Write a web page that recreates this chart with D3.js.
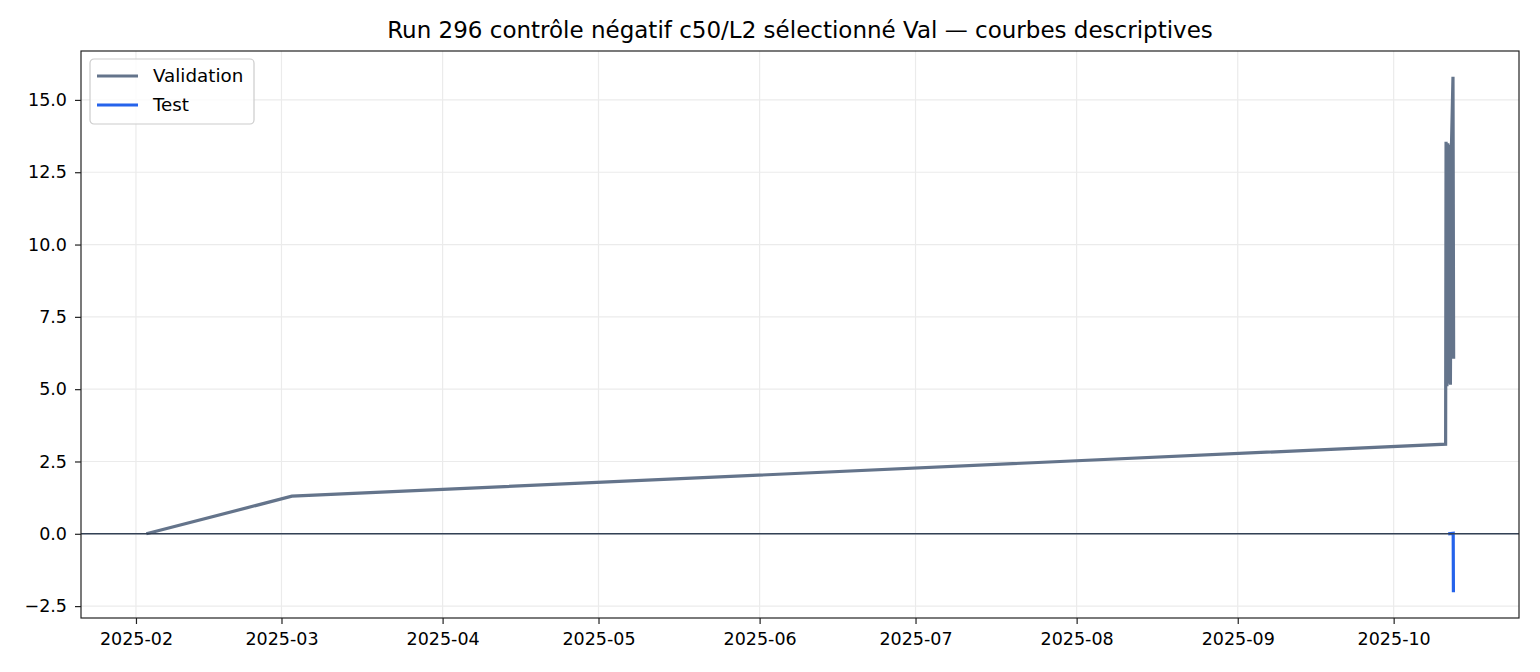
<!DOCTYPE html>
<html lang="fr">
<head>
    <meta charset="UTF-8">
    <title>Run 296 contrôle négatif</title>
    <script src="https://d3js.org/d3.v7.min.js"></script>
    <style>
        body { margin: 0; background: #fff; }
        svg { font-family: "DejaVu Sans", sans-serif; }
    </style>
</head>
<body>
<div id="chart"></div>
<script>
    // series
    const validationDates = [
        "2025-02-03T00", "2025-03-03T00", "2025-10-11T00",
        "2025-10-11T02", "2025-10-11T06", "2025-10-11T10", "2025-10-11T14",
        "2025-10-11T18", "2025-10-11T22", "2025-10-12T03", "2025-10-12T10", "2025-10-12T13"
    ];
    const validationValues = [0.0, 1.3, 3.1, 13.55, 5.1, 13.5, 5.2, 13.45, 5.15, 13.4, 15.8, 6.05];

    const testDates = ["2025-10-11T12", "2025-10-12T11", "2025-10-12T12"];
    const testValues = [0.0, 0.02, -2.02];

    const yTicks = [-2.5, 0, 2.5, 5, 7.5, 10, 12.5, 15];
    const seriesNames = ["Validation", "Test"];
    const seriesColors = ["#64748b", "#2563eb"];
    const title = "Run 296 contrôle négatif c50/L2 sélectionné Val — courbes descriptives";

    const width = 1540, height = 672;
    const margin = { top: 51, right: 21, bottom: 54, left: 81 };
    const iw = width - margin.left - margin.right;
    const ih = height - margin.top - margin.bottom;

    const parse = d3.utcParse("%Y-%m-%dT%H");
    const validation = validationDates.map((d, i) => ({ date: parse(d), value: validationValues[i] }));
    const test = testDates.map((d, i) => ({ date: parse(d), value: testValues[i] }));
    const all = validation.concat(test);

    // matplotlib style 5% margins
    const xExt = d3.extent(all, d => d.date);
    const xPad = (xExt[1] - xExt[0]) * 0.05;
    const yExt = d3.extent(all, d => d.value);
    const yPad = (yExt[1] - yExt[0]) * 0.05;

    const xScale = d3.scaleUtc()
        .domain([new Date(+xExt[0] - xPad), new Date(+xExt[1] + xPad)])
        .range([0, iw]);
    const yScale = d3.scaleLinear()
        .domain([yExt[0] - yPad, yExt[1] + yPad])
        .range([ih, 0]);

    const svg = d3.select("#chart").append("svg")
        .attr("width", width)
        .attr("height", height);

    svg.append("text")
        .attr("x", margin.left + iw / 2)
        .attr("y", 38)
        .attr("text-anchor", "middle")
        .attr("font-size", "23px")
        .attr("fill", "#000")
        .text(title);

    const g = svg.append("g").attr("transform", `translate(${margin.left},${margin.top})`);

    const xTicks = xScale.ticks(d3.utcMonth.every(1));

    // grid
    g.append("g").selectAll("line").data(xTicks).join("line")
        .attr("x1", d => xScale(d)).attr("x2", d => xScale(d))
        .attr("y1", 0).attr("y2", ih)
        .attr("stroke", "#ebebeb").attr("stroke-width", 1.2);
    g.append("g").selectAll("line").data(yTicks).join("line")
        .attr("x1", 0).attr("x2", iw)
        .attr("y1", d => yScale(d)).attr("y2", d => yScale(d))
        .attr("stroke", "#ebebeb").attr("stroke-width", 1.2);

    const line = d3.line()
        .x(d => xScale(d.date))
        .y(d => yScale(d.value));

    g.append("path").datum(validation)
        .attr("d", line)
        .attr("fill", "none")
        .attr("stroke", seriesColors[0])
        .attr("stroke-width", 3.2)
        .attr("stroke-linejoin", "miter");

    g.append("path").datum(test)
        .attr("d", line)
        .attr("fill", "none")
        .attr("stroke", seriesColors[1])
        .attr("stroke-width", 3.2);

    // zero reference line
    g.append("line")
        .attr("x1", 0).attr("x2", iw)
        .attr("y1", yScale(0)).attr("y2", yScale(0))
        .attr("stroke", "#334155").attr("stroke-width", 1.6);

    // axes
    const xAxis = d3.axisBottom(xScale)
        .tickValues(xTicks)
        .tickFormat(d3.utcFormat("%Y-%m"))
        .tickSize(6).tickPadding(9);
    const yAxis = d3.axisLeft(yScale)
        .tickValues(yTicks)
        .tickFormat(d3.format(".1f"))
        .tickSize(6).tickPadding(8);

    const gx = g.append("g").attr("transform", `translate(0,${ih})`).call(xAxis);
    const gy = g.append("g").call(yAxis);
    [gx, gy].forEach(a => {
        a.select(".domain").remove();
        a.selectAll("line").attr("stroke", "#222").attr("stroke-width", 1.2);
        a.selectAll("text").attr("font-size", "17.5px").attr("fill", "#000")
            .attr("font-family", "DejaVu Sans, sans-serif");
    });

    // frame
    g.append("rect")
        .attr("width", iw).attr("height", ih)
        .attr("fill", "none")
        .attr("stroke", "#222").attr("stroke-width", 1.2);

    // legend
    const legend = g.append("g").attr("transform", "translate(9,8)");
    legend.append("rect")
        .attr("width", 164).attr("height", 65)
        .attr("rx", 4)
        .attr("fill", "rgba(255,255,255,0.8)")
        .attr("stroke", "#cccccc").attr("stroke-width", 1.2);
    seriesNames.forEach((name, i) => {
        const yy = 17 + i * 29;
        legend.append("line")
            .attr("x1", 7).attr("x2", 48)
            .attr("y1", yy).attr("y2", yy)
            .attr("stroke", seriesColors[i]).attr("stroke-width", 3.2);
        legend.append("text")
            .attr("x", 63).attr("y", yy + 6)
            .attr("font-size", "18.3px")
            .attr("fill", "#000")
            .text(name);
    });
</script>
</body>
</html>
